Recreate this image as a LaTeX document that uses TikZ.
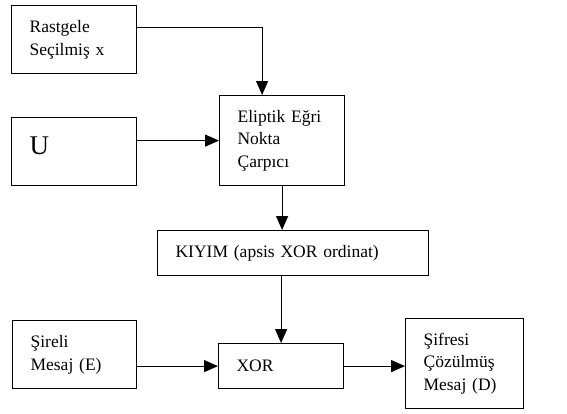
\documentclass[tikz,border=0pt]{standalone}
\usepackage{fontspec}
\setmainfont{Liberation Serif}
\usetikzlibrary{arrows.meta}

\tikzset{
  kutu/.style 2 args={draw, line width=1.2pt, anchor=north west, align=left,
    inner xsep=18pt, inner ysep=0pt, text width=#1, minimum height=#2,
    font=\fontsize{17.5}{22.5}\selectfont},
  ok/.style={line width=1.2pt, -{Triangle[length=14pt,width=12pt]}}
}

\begin{document}
\begin{tikzpicture}[x=1pt,y=-1pt]
        \useasboundingbox (0,0) rectangle (567,413);
        % kutular
        \node[kutu={89pt}{68pt}] (rastgele) at (11,5) {Rastgele\\Seçilmiş x};
        \node[kutu={89pt}{68pt},font=\fontsize{27}{32}\selectfont,text depth=12pt] (u) at (11,117) {U};
        \node[kutu={89pt}{90pt}] (eliptik) at (219,95) {Eliptik Eğri\\Nokta\\Çarpıcı};
        \node[kutu={235pt}{45pt}] (kiyim) at (157,230) {KIYIM (apsis XOR ordinat)};
        \node[kutu={89pt}{45pt}] (xor) at (218,343) {XOR};
        \node[kutu={88pt}{68pt}] (sireli) at (12,320) {Şireli\\Mesaj (E)};
        \node[kutu={82pt}{90pt}] (sifresi) at (405,318) {Şifresi\\Çözülmüş\\Mesaj (D)};
        % oklar
        \draw[ok] ([yshift=12pt]rastgele.east) -| ([xshift=-20pt]eliptik.north);
        \draw[ok] (u.east |- eliptik.west) -- (eliptik.west);
        \draw[ok] (eliptik.south) -- (eliptik.south |- kiyim.north);
        \draw[ok] (xor.north |- kiyim.south) -- (xor.north);
        \draw[ok] (sireli.east |- xor.west) -- (xor.west);
        \draw[ok] (xor.east) -- (xor.east -| sifresi.west);
\end{tikzpicture}
\end{document}
